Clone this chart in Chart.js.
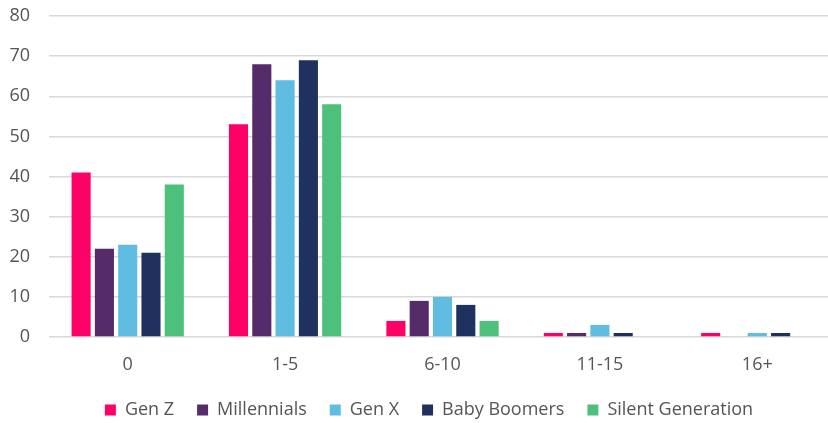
<!DOCTYPE html>
<html>
<head>
<meta charset="utf-8">
<script src="https://cdn.jsdelivr.net/npm/chart.js@4/dist/chart.umd.min.js"></script>
<style>
  html, body { margin: 0; padding: 0; background: #fff; overflow: hidden; }
  #wrap { width: 840px; height: 423px; position: relative; }
</style>
</head>
<body>
<div id="wrap"><canvas id="years-chart"></canvas></div>
<script>
// years with current employer, share of each generation (%)
const categories = ["0", "1-5", "6-10", "11-15", "16+"];
const genZ = [41, 53, 4, 1, 1];
const millennials = [22, 68, 9, 1, 0];
const genX = [23, 64, 10, 3, 1];
const babyBoomers = [21, 69, 8, 1, 1];
const silentGeneration = [38, 58, 4, 0, 0];
const yTicks = [0, 10, 20, 30, 40, 50, 60, 70, 80];

const labelColor = "#555555";
const font = { family: "'Open Sans', sans-serif", size: 18 };

const series = [
    { label: "Gen Z", data: genZ, color: "#FF0066" },
    { label: "Millennials", data: millennials, color: "#562B6A" },
    { label: "Gen X", data: genX, color: "#60BCE0" },
    { label: "Baby Boomers", data: babyBoomers, color: "#1F315E" },
    { label: "Silent Generation", data: silentGeneration, color: "#4DC07C" }
];

// keep the legend strip compact and nudge it a bit to the right
const legendBox = {
    id: "legendBox",
    beforeLayout(chart) {
        const legend = chart.legend;
        if (legend && !legend._compact) {
            const fit = legend.fit;
            legend.fit = function () {
                fit.call(this);
                this.height = 45;
            };
            legend._compact = true;
        }
    },
    afterLayout(chart) {
        chart.legend.left += 11;
        chart.legend.right += 11;
    }
};

new Chart(document.getElementById("years-chart"), {
    type: "bar",
    data: {
        labels: categories,
        datasets: series.map(s => ({
            label: s.label,
            data: s.data,
            backgroundColor: s.color,
            borderWidth: 0,
            categoryPercentage: 0.74,
            barPercentage: 0.82
        }))
    },
    plugins: [legendBox],
    options: {
        responsive: true,
        maintainAspectRatio: false,
        animation: false,
        layout: { padding: { top: 16, right: 4, bottom: 0, left: 0 } },
        plugins: {
            legend: {
                position: "bottom",
                labels: {
                    color: labelColor,
                    font: font,
                    boxWidth: 11,
                    boxHeight: 11,
                    padding: 23
                }
            },
            tooltip: { enabled: false }
        },
        scales: {
            x: {
                afterFit: scale => { scale.height = 41; },
                grid: { display: false, drawTicks: false },
                border: { display: false },
                ticks: { color: labelColor, font: font, padding: 17 }
            },
            y: {
                min: 0,
                max: 80,
                afterFit: scale => {
                    scale.width = 49;
                    scale.paddingTop = 0;
                    scale.paddingBottom = 0;
                },
                afterBuildTicks: scale => { scale.ticks = yTicks.map(v => ({ value: v })); },
                grid: { color: "#D9D9D9", lineWidth: 1.5, drawTicks: false },
                border: { display: false },
                ticks: { color: labelColor, font: font, padding: 19 }
            }
        }
    }
});
</script>
</body>
</html>
